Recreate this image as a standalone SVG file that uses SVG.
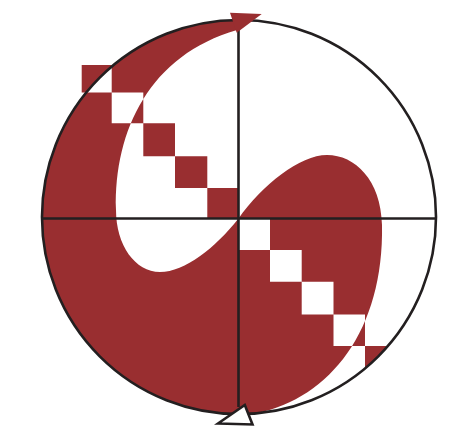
<svg xmlns="http://www.w3.org/2000/svg" width="457" height="434" viewBox="0 0 457 434">
  <style>
    .red { fill: #992e30; }
    .ink { fill: none; stroke: #231f20; stroke-width: 2.6; }
  </style>
  <rect width="457" height="434" fill="#ffffff"/>
  <g id="shape">
    <path class="red" fill-rule="evenodd" d="M 237,20 A 197 197 0 1 0 257,413.2 C 330,398 384,330 382,225 C 381,180 355,155 327,155 C 300,155 262,185 238.5,218.5 C 215,248 185,272 160,272 C 135,272 116,245 116,210 C 114,130 150,55 237,30 Z
      M 81.7,65 H 111.7 V 92.5 H 81.7 Z
      M 111.7,92.5 H 143.3 V 123.3 H 111.7 Z
      M 143.3,123.3 H 175 V 156.3 H 143.3 Z
      M 175,156.3 H 207.3 V 188 H 175 Z
      M 207.3,188 H 238.5 V 218.5 H 207.3 Z
      M 238.5,218.5 H 270 V 250 H 238.5 Z
      M 270,250 H 301.7 V 281.7 H 270 Z
      M 301.7,281.7 H 333.5 V 314.5 H 301.7 Z
      M 333.5,314.5 H 365 V 346 H 333.5 Z
      M 365,346 H 387.9 A 197 197 0 0 1 365,368.4 Z"/>
  </g>
  <g id="axes">
    <circle class="ink" cx="239" cy="217" r="197"/>
    <line class="ink" x1="41" y1="218.5" x2="437" y2="218.5" stroke-width="2.2"/>
    <line class="ink" x1="238.5" y1="22" x2="238.5" y2="407" stroke-width="2.2"/>
  </g>
  <g id="arrows">
    <polygon class="red" points="230,12.7 261.7,14 236.7,32.7"/>
    <polygon points="218,423.5 252.5,424.5 244.8,405" fill="#ffffff" stroke="#231f20" stroke-width="2.6"/>
  </g>
</svg>
